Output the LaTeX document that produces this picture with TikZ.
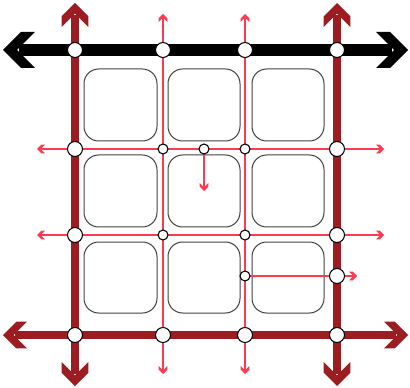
\documentclass[tikz,border=0pt]{standalone}
\usepackage{xcolor}
\usepackage{tikz}
\usetikzlibrary{arrows.meta}
\definecolor{gridred}{RGB}{155, 28, 33}
\definecolor{gridpink}{RGB}{255, 58, 80}
% Square-cut chevron tip
\pgfdeclarearrow{
  name = Chevron,
  parameters = {\the\pgfarrowlength,\the\pgfarrowwidth},
  setup code = {
    \pgfarrowssettipend{0pt}
    \pgfarrowssetbackend{-\pgfarrowlength}
    \pgfarrowssetlineend{-.5\pgfarrowlength}
    \pgfarrowsupperhullpoint{0pt}{0pt}
    \pgfarrowsupperhullpoint{-\pgfarrowlength}{.5\pgfarrowwidth}
    \pgfarrowssavethe\pgfarrowlength
    \pgfarrowssavethe\pgfarrowwidth
  },
  drawing code = {
    \pgfpathmoveto{\pgfpointorigin}
    \pgfpathlineto{\pgfpoint{-.5\pgfarrowwidth}{.5\pgfarrowwidth}}
    \pgfpathlineto{\pgfpoint{-\pgfarrowlength}{.5\pgfarrowwidth}}
    \pgfpathlineto{\pgfpoint{.5\pgfarrowwidth-\pgfarrowlength}{0pt}}
    \pgfpathlineto{\pgfpoint{-\pgfarrowlength}{-.5\pgfarrowwidth}}
    \pgfpathlineto{\pgfpoint{-.5\pgfarrowwidth}{-.5\pgfarrowwidth}}
    \pgfpathclose
    \pgfusepathqfill
  },
  defaults = {length = 8pt, width = 8pt}
}
\tikzset{
  bigdot/.style={circle, draw=black, fill=white, line width=0.8pt, minimum size=11.25pt, inner sep=0pt},
  smalldot/.style={circle, draw=black, fill=white, line width=0.8pt, minimum size=7.5pt, inner sep=0pt},
  cell/.style={draw=black!75, line width=0.75pt, rounded corners=11pt},
  blackline/.style={line width=9pt, black, {Chevron[length=24pt, width=27pt]}-{Chevron[length=24pt, width=27pt]}},
  redline/.style={line width=6.3pt, gridred, {Chevron[length=18pt, width=20pt]}-{Chevron[length=18pt, width=20pt]}},
  pinkline/.style={line width=1.9pt, gridpink, {Chevron[length=6pt, width=6.5pt]}-{Chevron[length=6pt, width=6.5pt]}},
  pinkarrow/.style={line width=1.9pt, gridpink, -{Chevron[length=6pt, width=6.5pt]}}
}
\begin{document}
\begin{tikzpicture}[x=0.75pt, y=-0.75pt]
    \useasboundingbox (0,0) rectangle (410,388);

    % Crossing points
    \coordinate (p11) at (75,50);  \coordinate (p12) at (163,50);  \coordinate (p13) at (245,50);  \coordinate (p14) at (337,50);
    \coordinate (p21) at (75,149); \coordinate (p22) at (163,149); \coordinate (p2m) at (204,149); \coordinate (p23) at (245,149); \coordinate (p24) at (337,149);
    \coordinate (p31) at (75,235); \coordinate (p32) at (163,235); \coordinate (p33) at (245,235); \coordinate (p34) at (337,235);
    \coordinate (p43) at (245,276); \coordinate (p44) at (337,276);
    \coordinate (p51) at (75,335); \coordinate (p52) at (163,335); \coordinate (p53) at (245,335); \coordinate (p54) at (337,335);

    % Free ends
    \coordinate (topW) at (3,50);    \coordinate (topE) at (408,50);
    \coordinate (botW) at (3,335);   \coordinate (botE) at (408,335);
    \coordinate (leftN) at (75,3);   \coordinate (leftS) at (75,386);
    \coordinate (rightN) at (337,3); \coordinate (rightS) at (337,386);
    \coordinate (midaN) at (163,14); \coordinate (midaS) at (163,374);
    \coordinate (midbN) at (245,14); \coordinate (midbS) at (245,374);
    \coordinate (rowaW) at (37,149); \coordinate (rowaE) at (384,149);
    \coordinate (rowbW) at (37,235); \coordinate (rowbE) at (384,235);
    \coordinate (downEnd) at (204,191);
    \coordinate (sideEnd) at (357,276);

    % Rounded cells
    \draw[cell] (84,69) rectangle (157,141);
    \draw[cell] (168,69) rectangle (240,141);
    \draw[cell] (252,69) rectangle (324,141);
    \draw[cell] (84,155) rectangle (157,227);
    \draw[cell] (168,155) rectangle (240,227);
    \draw[cell] (252,155) rectangle (324,227);
    \draw[cell] (84,242) rectangle (157,313);
    \draw[cell] (168,242) rectangle (240,313);
    \draw[cell] (252,242) rectangle (324,313);

    % Thin grid
    \draw[pinkline] (midaS) -- (midaN);
    \draw[pinkline] (midbS) -- (midbN);
    \draw[pinkline] (rowaW) -- (rowaE);
    \draw[pinkline] (rowbW) -- (rowbE);
    \draw[pinkarrow] (p2m) -- (downEnd);
    \draw[pinkarrow] (p43) -- (sideEnd);

    % Thick borders
    \draw[redline] (leftS) -- (leftN);
    \draw[redline] (rightS) -- (rightN);
    \draw[redline] (botW) -- (botE);
    \draw[blackline] (topW) -- (topE);

    % Dots
    \node[bigdot] (d11) at (p11) {};
    \node[bigdot] (d12) at (p12) {};
    \node[bigdot] (d13) at (p13) {};
    \node[bigdot] (d14) at (p14) {};
    \node[bigdot] (d21) at (p21) {};
    \node[smalldot] (d22) at (p22) {};
    \node[smalldot] (d2m) at (p2m) {};
    \node[smalldot] (d23) at (p23) {};
    \node[bigdot] (d24) at (p24) {};
    \node[bigdot] (d31) at (p31) {};
    \node[smalldot] (d32) at (p32) {};
    \node[smalldot] (d33) at (p33) {};
    \node[bigdot] (d34) at (p34) {};
    \node[smalldot] (d43) at (p43) {};
    \node[bigdot] (d44) at (p44) {};
    \node[bigdot] (d51) at (p51) {};
    \node[bigdot] (d52) at (p52) {};
    \node[bigdot] (d53) at (p53) {};
    \node[bigdot] (d54) at (p54) {};
\end{tikzpicture}
\end{document}
